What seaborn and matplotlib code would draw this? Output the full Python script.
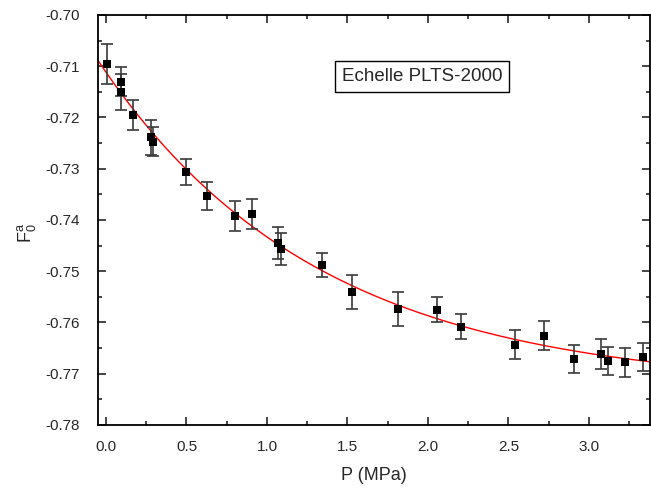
import numpy as np
import pandas as pd
import matplotlib
matplotlib.use('Agg')
import matplotlib.pyplot as plt
import seaborn as sns
from matplotlib.ticker import MultipleLocator

# pressure (MPa) and F0^a values
pressure = [0.004, 0.093, 0.093, 0.166, 0.281, 0.290, 0.495, 0.629, 0.801, 0.907,
            1.068, 1.085, 1.340, 1.528, 1.812, 2.056, 2.203, 2.540, 2.722, 2.907,
            3.075, 3.116, 3.222, 3.334]
f0a = [-0.7096, -0.7130, -0.7150, -0.7195, -0.7239, -0.7247, -0.7306, -0.7353, -0.7392, -0.7389,
       -0.7445, -0.7456, -0.7488, -0.7540, -0.7573, -0.7575, -0.7608, -0.7643, -0.7626, -0.7671,
       -0.7661, -0.7675, -0.7678, -0.7667]
f0a_err = [0.0039, 0.0029, 0.0035, 0.0030, 0.0034, 0.0029, 0.0025, 0.0027, 0.0030, 0.0029,
           0.0031, 0.0031, 0.0023, 0.0033, 0.0033, 0.0025, 0.0025, 0.0029, 0.0028, 0.0027,
           0.0029, 0.0027, 0.0029, 0.0027]

df = pd.DataFrame({'P': pressure, 'F': f0a, 'err': f0a_err})

# exponential decay fit y = y0 + A*exp(-x/t), grid search on t
x = df['P'].values
y = df['F'].values
w = 1 / df['err'].values
best = None
for t in np.linspace(0.3, 5, 500):
    M = np.column_stack([np.ones_like(x), np.exp(-x / t)])
    coef, *_ = np.linalg.lstsq(M * w[:, None], y * w, rcond=None)
    res = np.sum(((M @ coef - y) * w) ** 2)
    if best is None or res < best[0]:
        best = (res, t, coef)
_, t_fit, (y0, A) = best

xlim = (-0.048, 3.38)
xf = np.linspace(xlim[0], xlim[1], 300)
fit = pd.DataFrame({'P': xf, 'F': y0 + A * np.exp(-xf / t_fit)})

sns.set_style('ticks')
plt.rcParams['font.family'] = ['Liberation Sans', 'DejaVu Sans']
plt.rcParams['mathtext.fontset'] = 'custom'
plt.rcParams['mathtext.rm'] = 'Liberation Sans'

fig = plt.figure(figsize=(6.51, 4.90), dpi=100)
ax = fig.add_axes([0.151, 0.1327, 0.8475, 0.8367])

sns.lineplot(data=fit, x='P', y='F', color='red', linewidth=1.0, ax=ax, zorder=2)
ax.errorbar(df['P'], df['F'], yerr=df['err'], fmt='none', ecolor='#3a3a3a',
            elinewidth=1.2, capsize=4.5, capthick=1.2, zorder=3)
sns.scatterplot(data=df, x='P', y='F', marker='s', color='black', s=32,
                edgecolor='black', linewidth=0, ax=ax, zorder=4)

ax.set_xlim(*xlim)
ax.set_ylim(-0.78, -0.70)
ax.xaxis.set_major_locator(MultipleLocator(0.5))
ax.xaxis.set_minor_locator(MultipleLocator(0.25))
ax.yaxis.set_major_locator(MultipleLocator(0.01))
ax.yaxis.set_minor_locator(MultipleLocator(0.005))
ax.yaxis.set_major_formatter(matplotlib.ticker.FormatStrFormatter('%.2f'))
ax.xaxis.set_major_formatter(matplotlib.ticker.FormatStrFormatter('%.1f'))
ax.tick_params(which='both', direction='in', top=True, right=True, width=1.2, labelsize=11)
ax.tick_params(which='major', length=5.5)
ax.tick_params(which='minor', length=3)
ax.tick_params(axis='y', which='major', pad=13)
ax.tick_params(axis='x', which='major', pad=11)
for s in ax.spines.values():
    s.set_linewidth(1.3)
    s.set_color('black')

ax.set_xlabel('P (MPa)', fontsize=13, labelpad=9)
ax.set_ylabel(r'$\mathregular{F_0^a}$', fontsize=13)
ax.yaxis.set_label_coords(-0.109, 0.468)

ax.text(0.5867, 0.85, 'Echelle PLTS-2000', transform=ax.transAxes, ha='center', va='center',
        fontsize=13.5, bbox=dict(boxstyle='square,pad=0.35', fc='white', ec='black', lw=1.0))

fig.savefig('out.png', dpi=100)
